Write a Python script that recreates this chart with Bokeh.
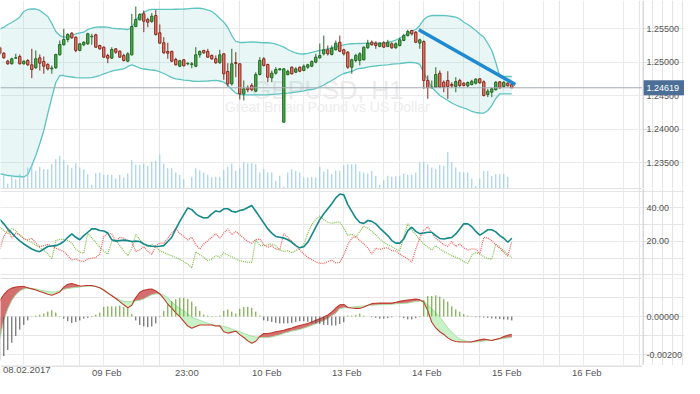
from bokeh.plotting import figure
from bokeh.layouts import column, row
from bokeh.models import Range1d, FixedTicker, Span, Label, ColumnDataSource, Grid
from bokeh.core.properties import value
from bokeh.embed import file_html
from bokeh.resources import INLINE
import numpy as np

# ---------------- data (GBPUSD H1) ----------------
open_ = [1.25220, 1.25135, 1.25016, 1.24977, 1.25061, 1.25086, 1.24977, 1.25026, 1.24962, 1.24917,
         1.25067, 1.25011, 1.24967, 1.24902, 1.24917, 1.25111, 1.25261, 1.25340, 1.25434, 1.25374,
         1.25176, 1.25261, 1.25276, 1.25380, 1.25410, 1.25250, 1.25225, 1.25101, 1.25061, 1.25201,
         1.25165, 1.25101, 1.25016, 1.25111, 1.25534, 1.25634, 1.25723, 1.25638, 1.25609, 1.25698,
         1.25440, 1.25291, 1.25161, 1.25161, 1.25041, 1.24941, 1.25037, 1.24977, 1.24967, 1.24941,
         1.25111, 1.25176, 1.25161, 1.25101, 1.25052, 1.24992, 1.25126, 1.24862, 1.24678, 1.24996,
         1.24977, 1.24529, 1.24619, 1.24653, 1.24568, 1.24817, 1.25052, 1.24967, 1.24768, 1.24837,
         1.24887, 1.24105, 1.24817, 1.24926, 1.24851, 1.24926, 1.24877, 1.24926, 1.24941, 1.25001,
         1.25067, 1.25126, 1.25186, 1.25116, 1.25186, 1.25299, 1.25186, 1.25150, 1.24926, 1.25026,
         1.25026, 1.25037, 1.25216, 1.25299, 1.25285, 1.25235, 1.25291, 1.25235, 1.25276, 1.25216,
         1.25250, 1.25325, 1.25399, 1.25474, 1.25449, 1.25285, 1.25310, 1.24728, 1.24619, 1.24628,
         1.24837, 1.24702, 1.24728, 1.24668, 1.24638, 1.24728, 1.24687, 1.24648, 1.24668, 1.24687,
         1.24753, 1.24708, 1.24519, 1.24553, 1.24589, 1.24708, 1.24638, 1.24687, 1.24668]
high_ = [1.25235, 1.25150, 1.25037, 1.25067, 1.25126, 1.25116, 1.25026, 1.25046, 1.25201, 1.25176,
         1.25116, 1.25086, 1.24986, 1.24952, 1.25126, 1.25325, 1.25500, 1.25434, 1.25449, 1.25385,
         1.25285, 1.25314, 1.25440, 1.25425, 1.25425, 1.25261, 1.25235, 1.25126, 1.25225, 1.25210,
         1.25176, 1.25126, 1.25150, 1.25723, 1.25832, 1.25733, 1.25773, 1.25664, 1.25733, 1.25783,
         1.25564, 1.25374, 1.25291, 1.25176, 1.25067, 1.25037, 1.25046, 1.24996, 1.25001, 1.25225,
         1.25176, 1.25186, 1.25201, 1.25116, 1.25101, 1.25186, 1.25135, 1.24986, 1.25201, 1.25150,
         1.24986, 1.24728, 1.24653, 1.24687, 1.24851, 1.25076, 1.25076, 1.24977, 1.24877, 1.24926,
         1.24911, 1.24911, 1.24887, 1.24937, 1.24926, 1.24937, 1.24967, 1.24977, 1.25026, 1.25126,
         1.25280, 1.25399, 1.25250, 1.25250, 1.25325, 1.25399, 1.25201, 1.25165, 1.25052, 1.25126,
         1.25150, 1.25235, 1.25335, 1.25325, 1.25314, 1.25299, 1.25314, 1.25335, 1.25299, 1.25299,
         1.25365, 1.25425, 1.25485, 1.25485, 1.25464, 1.25350, 1.25325, 1.24802, 1.24728, 1.24926,
         1.24877, 1.24728, 1.24866, 1.24702, 1.24777, 1.24753, 1.24702, 1.24713, 1.24738, 1.24762,
         1.24762, 1.24728, 1.24604, 1.24619, 1.24717, 1.24717, 1.24717, 1.24702, 1.24678]
low_ = [1.25101, 1.25052, 1.24962, 1.24967, 1.25052, 1.24967, 1.24967, 1.24947, 1.24762, 1.24902,
        1.24877, 1.24828, 1.24877, 1.24828, 1.24902, 1.25101, 1.25250, 1.25299, 1.25350, 1.25150,
        1.25165, 1.25240, 1.25261, 1.25261, 1.25216, 1.25186, 1.25067, 1.24986, 1.25052, 1.25126,
        1.25067, 1.25011, 1.25001, 1.25101, 1.25523, 1.25624, 1.25449, 1.25523, 1.25589, 1.25399,
        1.25276, 1.25126, 1.25052, 1.25001, 1.24952, 1.24926, 1.24937, 1.24956, 1.24911, 1.24926,
        1.25067, 1.25126, 1.25067, 1.25037, 1.24977, 1.24977, 1.24738, 1.24638, 1.24653, 1.24777,
        1.24444, 1.24429, 1.24553, 1.24568, 1.24553, 1.24802, 1.24937, 1.24702, 1.24702, 1.24817,
        1.24877, 1.24105, 1.24802, 1.24817, 1.24837, 1.24851, 1.24866, 1.24902, 1.24926, 1.24986,
        1.25052, 1.25101, 1.25101, 1.25101, 1.25176, 1.25150, 1.25101, 1.24902, 1.24828, 1.25001,
        1.24952, 1.25026, 1.25201, 1.25250, 1.25201, 1.25225, 1.25216, 1.25225, 1.25201, 1.25201,
        1.25235, 1.25314, 1.25385, 1.25399, 1.25285, 1.25201, 1.24604, 1.24454, 1.24610, 1.24619,
        1.24619, 1.24553, 1.24454, 1.24619, 1.24553, 1.24628, 1.24638, 1.24628, 1.24653, 1.24668,
        1.24678, 1.24489, 1.24479, 1.24479, 1.24579, 1.24604, 1.24619, 1.24638, 1.24613]
close_ = [1.25131, 1.25067, 1.24977, 1.25052, 1.25067, 1.24977, 1.25016, 1.24962, 1.24892, 1.25052,
          1.24986, 1.24941, 1.24902, 1.24914, 1.25116, 1.25265, 1.25340, 1.25414, 1.25365, 1.25176,
          1.25276, 1.25299, 1.25425, 1.25388, 1.25225, 1.25201, 1.25076, 1.25061, 1.25190, 1.25150,
          1.25076, 1.25026, 1.25126, 1.25534, 1.25638, 1.25713, 1.25613, 1.25598, 1.25688, 1.25414,
          1.25285, 1.25141, 1.25135, 1.25016, 1.24962, 1.25022, 1.24947, 1.24986, 1.24977, 1.25111,
          1.25161, 1.25141, 1.25076, 1.25052, 1.24992, 1.25111, 1.24828, 1.24678, 1.24977, 1.24981,
          1.24529, 1.24604, 1.24589, 1.24589, 1.24817, 1.25026, 1.24952, 1.24777, 1.24837, 1.24892,
          1.24902, 1.24902, 1.24866, 1.24828, 1.24902, 1.24866, 1.24941, 1.24962, 1.25011, 1.25076,
          1.25101, 1.25186, 1.25126, 1.25210, 1.25285, 1.25165, 1.25126, 1.24926, 1.25037, 1.25101,
          1.25126, 1.25225, 1.25285, 1.25261, 1.25250, 1.25285, 1.25225, 1.25299, 1.25216, 1.25276,
          1.25335, 1.25399, 1.25459, 1.25425, 1.25299, 1.25335, 1.24728, 1.24619, 1.24630, 1.24817,
          1.24628, 1.24628, 1.24638, 1.24648, 1.24713, 1.24653, 1.24653, 1.24698, 1.24717, 1.24747,
          1.24693, 1.24504, 1.24568, 1.24604, 1.24702, 1.24619, 1.24702, 1.24648, 1.24619]
volume = [1300, 1430, 500, 1370, 930, 1430, 1100, 2100, 2430, 1770,
          2170, 1930, 1930, 2430, 2930, 3270, 2830, 2370, 2030, 2530,
          2100, 1930, 1430, 370, 1530, 1600, 1370, 1370, 1370, 1000,
          1370, 1100, 1500, 2830, 2370, 2370, 2500, 2270, 2700, 2770,
          3370, 2500, 2030, 2030, 1600, 1370, 930, 100, 1170, 2030,
          1830, 1600, 1370, 1100, 1170, 1170, 1830, 2170, 2500, 1770,
          2030, 2600, 2500, 2530, 2430, 1600, 1930, 1600, 1600, 770,
          1270, 170, 1600, 1930, 1770, 1600, 1100, 1100, 1170, 1100,
          2170, 1700, 1930, 1430, 1770, 1770, 2330, 2430, 2430, 2430,
          1700, 1600, 1500, 1770, 1270, 370, 830, 1270, 1170, 1230,
          1270, 1500, 1370, 1370, 1600, 2600, 2670, 2430, 2100, 1930,
          2370, 2270, 3630, 2630, 2100, 1670, 1600, 1600, 1000, 270,
          1000, 1770, 1770, 1270, 1430, 1430, 1430, 1170, 0]
bb_upper = [1.25500, 1.25519, 1.25564, 1.25594, 1.25631, 1.25676, 1.25758, 1.25788, 1.25798, 1.25795,
            1.25773, 1.25728, 1.25683, 1.25579, 1.25459, 1.25399, 1.25374, 1.25380, 1.25399, 1.25422,
            1.25437, 1.25449, 1.25489, 1.25511, 1.25523, 1.25526, 1.25526, 1.25523, 1.25511, 1.25504,
            1.25500, 1.25496, 1.25489, 1.25519, 1.25623, 1.25698, 1.25743, 1.25777, 1.25788, 1.25788,
            1.25788, 1.25788, 1.25788, 1.25788, 1.25791, 1.25794, 1.25795, 1.25798, 1.25803, 1.25806,
            1.25806, 1.25798, 1.25780, 1.25758, 1.25713, 1.25653, 1.25598, 1.25519, 1.25399, 1.25310,
            1.25295, 1.25295, 1.25302, 1.25305, 1.25302, 1.25295, 1.25291, 1.25291, 1.25287, 1.25271,
            1.25250, 1.25225, 1.25190, 1.25161, 1.25138, 1.25126, 1.25123, 1.25131, 1.25146, 1.25161,
            1.25176, 1.25183, 1.25198, 1.25213, 1.25228, 1.25246, 1.25261, 1.25271, 1.25276, 1.25277,
            1.25280, 1.25283, 1.25285, 1.25285, 1.25285, 1.25285, 1.25287, 1.25295, 1.25310, 1.25332,
            1.25362, 1.25392, 1.25429, 1.25467, 1.25489, 1.25549, 1.25638, 1.25683, 1.25698, 1.25698,
            1.25698, 1.25698, 1.25691, 1.25683, 1.25673, 1.25646, 1.25598, 1.25564, 1.25523, 1.25474,
            1.25422, 1.25374, 1.25280, 1.25176, 1.24996, 1.24787, 1.24787, 1.24787, 1.24787]
bb_lower = [1.23335, 1.23324, 1.23309, 1.23302, 1.23294, 1.23294, 1.23287, 1.23324, 1.23459, 1.23608,
            1.23787, 1.23981, 1.24235, 1.24474, 1.24698, 1.24802, 1.24802, 1.24787, 1.24780, 1.24770,
            1.24768, 1.24768, 1.24768, 1.24770, 1.24787, 1.24802, 1.24825, 1.24847, 1.24869, 1.24884,
            1.24892, 1.24902, 1.24937, 1.24962, 1.24937, 1.24914, 1.24899, 1.24892, 1.24884, 1.24877,
            1.24855, 1.24832, 1.24802, 1.24770, 1.24753, 1.24743, 1.24732, 1.24728, 1.24720, 1.24713,
            1.24713, 1.24717, 1.24720, 1.24725, 1.24728, 1.24720, 1.24705, 1.24653, 1.24593, 1.24539,
            1.24519, 1.24514, 1.24514, 1.24514, 1.24514, 1.24514, 1.24514, 1.24514, 1.24519, 1.24523,
            1.24529, 1.24534, 1.24539, 1.24546, 1.24553, 1.24563, 1.24572, 1.24586, 1.24593, 1.24608,
            1.24631, 1.24660, 1.24698, 1.24728, 1.24765, 1.24802, 1.24832, 1.24847, 1.24862, 1.24892,
            1.24907, 1.24914, 1.24926, 1.24937, 1.24944, 1.24952, 1.24956, 1.24962, 1.24971, 1.24977,
            1.24981, 1.24989, 1.24996, 1.24996, 1.24992, 1.24967, 1.24847, 1.24728, 1.24623, 1.24563,
            1.24504, 1.24466, 1.24429, 1.24392, 1.24362, 1.24339, 1.24317, 1.24295, 1.24265, 1.24250,
            1.24242, 1.24239, 1.24280, 1.24354, 1.24459, 1.24529, 1.24529, 1.24529, 1.24529]
adx = [33.3, 30.5, 27.5, 25.0, 22.5, 20.3, 18.5, 17.0, 15.5, 14.5,
       13.9, 15.5, 17.0, 17.3, 17.5, 18.5, 20.0, 22.5, 24.5, 22.5,
       21.0, 23.5, 25.5, 27.5, 27.5, 26.5, 26.2, 25.0, 21.0, 20.2,
       20.5, 20.8, 20.5, 20.0, 20.2, 20.0, 18.5, 17.5, 17.1, 17.0,
       17.1, 17.5, 20.0, 22.5, 27.5, 32.0, 36.0, 40.0, 39.0, 36.5,
       35.0, 34.0, 34.2, 36.5, 38.2, 37.7, 39.5, 39.5, 38.0, 37.5,
       38.5, 39.0, 40.3, 41.5, 38.0, 34.5, 31.0, 27.5, 25.0, 23.0,
       22.5, 22.0, 21.0, 19.5, 17.5, 16.2, 16.8, 19.5, 24.0, 28.5,
       33.0, 36.5, 39.5, 42.5, 46.0, 48.3, 47.8, 42.0, 38.0, 34.0,
       31.3, 30.8, 32.5, 32.0, 30.5, 28.0, 25.7, 23.5, 20.5, 19.0,
       19.0, 21.5, 26.5, 28.5, 26.0, 24.7, 25.0, 25.5, 25.5, 23.5,
       21.8, 21.5, 22.0, 22.4, 24.5, 27.5, 30.5, 30.5, 28.8, 26.0,
       23.8, 25.3, 27.0, 27.0, 25.7, 23.5, 21.9, 19.5, 21.9]
plus_di = [28.5, 26.5, 24.7, 27.6, 26.5, 23.5, 21.9, 20.5, 19.5, 17.8,
           16.2, 14.6, 12.8, 9.5, 20.5, 21.3, 21.3, 20.5, 19.0, 15.5,
           13.5, 13.0, 25.1, 22.0, 19.5, 16.5, 14.3, 12.5, 20.0, 21.0,
           17.5, 14.3, 11.5, 16.0, 24.3, 21.0, 18.5, 17.0, 18.1, 17.0,
           14.3, 13.5, 12.3, 11.5, 10.4, 9.3, 8.0, 6.5, 4.2, 13.8,
           12.0, 10.5, 8.5, 9.5, 11.5, 10.5, 13.3, 11.8, 11.0, 9.5,
           8.5, 8.0, 7.6, 7.5, 21.3, 17.5, 17.5, 18.0, 18.5, 17.5,
           15.0, 14.0, 14.5, 13.3, 14.5, 16.2, 18.1, 25.0, 30.0, 33.3,
           35.2, 33.0, 31.4, 30.8, 31.5, 31.5, 28.0, 23.5, 24.5, 22.5,
           26.0, 29.0, 28.0, 26.0, 24.0, 21.5, 19.5, 18.0, 17.0, 15.5,
           14.5, 23.0, 30.5, 27.0, 24.0, 21.0, 18.5, 16.5, 15.0, 17.5,
           15.5, 14.0, 12.8, 11.5, 10.5, 9.5, 8.0, 6.8, 12.0, 13.3,
           12.5, 11.0, 9.8, 9.5, 18.5, 16.5, 14.5, 12.5, 10.4]
minus_di = [15.5, 22.8, 27.0, 22.0, 25.0, 24.0, 21.5, 20.9, 21.9, 19.0,
            17.0, 17.5, 18.1, 17.5, 16.0, 15.0, 14.0, 11.5, 9.0, 9.5,
            8.5, 8.0, 9.5, 10.0, 10.4, 12.5, 22.8, 25.0, 24.5, 20.0,
            22.5, 22.0, 20.5, 20.0, 14.0, 15.0, 17.0, 14.0, 12.3, 17.5,
            19.0, 19.0, 22.0, 25.0, 27.6, 24.7, 23.0, 20.9, 22.5, 18.0,
            15.5, 18.5, 20.5, 22.5, 24.7, 22.0, 25.0, 27.5, 24.0, 26.0,
            24.0, 21.9, 20.0, 19.0, 21.0, 21.5, 18.0, 16.5, 17.5, 15.5,
            15.0, 24.7, 22.5, 20.0, 17.5, 15.0, 12.5, 10.5, 9.2, 7.8,
            7.0, 6.8, 8.0, 8.8, 7.2, 7.5, 12.0, 18.0, 22.0, 23.0,
            20.5, 18.5, 16.2, 12.5, 16.0, 15.2, 16.0, 16.2, 14.5, 14.3,
            12.5, 11.0, 9.5, 7.6, 15.5, 22.0, 26.6, 28.8, 25.0, 22.0,
            20.0, 18.0, 17.1, 20.0, 17.0, 18.5, 16.2, 15.0, 15.5, 15.5,
            12.5, 22.5, 22.0, 20.5, 18.0, 16.0, 13.5, 11.3, 20.0]
macd = [85, 115, 138, 150, 155, 158, 158, 152, 146, 140,
        132, 125, 118, 112, 120, 130, 155, 170, 174, 168,
        161, 162, 164, 164, 158, 152, 140, 125, 110, 95,
        79, 62, 46, 60, 100, 128, 138, 143, 145, 135,
        120, 95, 65, 45, 20, 0, -25, -50, -61, -52,
        -44, -44, -44, -44, -50, -49, -80, -87, -82, -77,
        -95, -110, -128, -140, -130, -105, -89, -89, -85, -80,
        -76, -72, -66, -60, -53, -47, -42, -37, -28, -20,
        -11, -2, 8, 25, 45, 62, 64, 48, 45, 43,
        43, 50, 60, 68, 70, 71, 71, 71, 71, 75,
        80, 84, 87, 90, 92, 88, 75, 30, -30, -60,
        -80, -94, -112, -125, -131, -133, -134, -134, -133, -128,
        -122, -118, -122, -126, -120, -115, -105, -98, -94]       # units of 1e-5
signal = [-118, -20, 40, 85, 115, 135, 145, 148, 148, 146,
          140, 136, 132, 129, 130, 136, 143, 148, 151, 153,
          156, 159, 160, 160, 158, 150, 136, 120, 112, 100,
          88, 79, 79, 80, 82, 86, 93, 105, 115, 120,
          118, 112, 100, 75, 58, 42, 30, 13, -3, -12,
          -20, -28, -34, -42, -46, -49, -52, -58, -66, -73,
          -80, -89, -97, -103, -108, -110, -110, -110, -107, -102,
          -96, -88, -82, -76, -72, -68, -61, -54, -46, -38,
          -30, -22, -10, 5, 18, 42, 46, 46, 50, 52,
          54, 56, 59, 60, 61, 62, 63, 64, 65, 67,
          68, 70, 71, 76, 80, 82, 82, 60, 40, 20,
          -3, -30, -60, -82, -104, -118, -126, -131, -134, -133,
          -131, -129, -126, -124, -121, -118, -115, -112, -110]   # units of 1e-5
hist = [-230, -208, -176, -138, -102, -69, -44, -20, 2, 5,
        10, 16, 26, 33, 21, 2, -11, -24, -33, -28,
        -20, -11, -7, -3, 10, 21, 51, 54, 54, 54,
        58, 51, 46, 13, -20, -44, -52, -56, -52, -36,
        -3, 30, 62, 82, 92, 99, 99, 92, 79, 54,
        30, 10, 5, 3, 2, 5, 30, 38, 26, 16,
        41, 51, 51, 46, 26, 5, -20, -24, -28, -33,
        -36, -36, -36, -33, -28, -24, -24, -28, -33, -36,
        -39, -44, -44, -47, -47, -39, -30, 5, 5, 8,
        16, 5, 0, -3, -7, -11, -11, -8, -3, 0,
        -3, -8, -15, -15, -8, -3, 87, 108, 108, 112,
        104, 92, 79, 54, 38, 26, 13, 5, 2, -3,
        -3, -5, -7, -10, -11, -13, -15, -16, -20]                 # units of 1e-5
trend_bar = [104.75, 128.9]
trend_price = [1.25485, 1.24668]

tick_bars = [6, 26, 46, 66, 86, 106, 126, 146]
tick_labels = ["08.02.2017", "09 Feb", "23:00", "10 Feb", "13 Feb", "14 Feb", "15 Feb", "16 Feb"]
minor_bars = [16, 36, 56, 76, 96, 116, 136, 156]
price_ticks = [1.235, 1.240, 1.245, 1.250, 1.255]
adx_ticks = [20.0, 40.0]
macd_ticks = [0.0, -0.002]
symbol = "GBPUSD, H1"
description = "Great Britain Pound vs US Dollar"

# ---------------- layout ----------------
n = len(close_)
k = np.arange(n)
o = np.array(open_); c = np.array(close_); h = np.array(high_); l = np.array(low_)
inc = c >= o

W = 642          # plot frame width (4 px per bar)
SW = 42          # price-scale strip width
XR = Range1d(0.175, 0.175 + W / 4)
FONT = "Liberation Sans"
GRID = "#ebebeb"
SEP = "#c4c4c4"
AXIS = "#b4b4b4"
LBL = "#555555"


def panel(fh, yr, ticks):
    p = figure(frame_width=W, frame_height=fh, x_range=XR, y_range=yr,
               output_backend="svg", toolbar_location=None,
               x_axis_location=None, y_axis_location=None, min_border=0)
    p.outline_line_color = None
    p.add_layout(Grid(dimension=0, ticker=FixedTicker(ticks=tick_bars + minor_bars),
                      grid_line_color=GRID))
    p.add_layout(Grid(dimension=1, ticker=FixedTicker(ticks=ticks), grid_line_color=GRID))
    return p


def scale(fh, yr, ticks, fmt):
    a = figure(frame_width=SW, frame_height=fh, x_range=Range1d(0, SW), y_range=yr,
               output_backend="svg", toolbar_location=None,
               x_axis_location=None, y_axis_location=None, min_border=0)
    a.outline_line_color = None
    a.add_layout(Span(location=0.5, dimension="height", line_color=AXIS, line_width=1))
    a.text(x=[4] * len(ticks), y=ticks, text=[fmt % t for t in ticks],
           text_font=value(FONT), text_font_size="9px", text_color=LBL,
           text_baseline="middle", text_align="left")
    return a


# ---- main price panel
YR1 = Range1d(1.23115, 1.25922)
p1 = panel(188, YR1, price_ticks)
p1.extra_y_ranges = {"vol": Range1d(0, 18800)}

mid_x = 81.9
p1.add_layout(Label(x=mid_x, y=1.24579, text=symbol, text_align="center",
                    text_baseline="alphabetic", text_font=FONT, text_font_size="25px",
                    text_color="#ebebeb", level="underlay"))
p1.add_layout(Label(x=mid_x, y=1.24339, text=description, text_align="center",
                    text_baseline="alphabetic", text_font=FONT, text_font_size="14px",
                    text_color="#ededed", level="underlay"))

p1.varea(x=k, y1=bb_lower, y2=bb_upper, fill_color="#58bcb8", fill_alpha=0.13)
p1.line(k, bb_upper, line_color="#5ec4c0", line_width=1.3)
p1.line(k, bb_lower, line_color="#5ec4c0", line_width=1.3)

p1.segment(x0=k, y0=0, x1=k, y1=volume, y_range_name="vol", line_color="#8ec8ec", line_width=1)

src_up = ColumnDataSource(dict(k=k[inc], h=h[inc], l=l[inc], top=c[inc], bot=o[inc]))
src_dn = ColumnDataSource(dict(k=k[~inc], h=h[~inc], l=l[~inc], top=o[~inc], bot=c[~inc]))
p1.segment(x0="k", y0="h", x1="k", y1="l", source=src_up, line_color="#226b22", line_width=1)
p1.segment(x0="k", y0="h", x1="k", y1="l", source=src_dn, line_color="#862a1e", line_width=1)
p1.vbar(x="k", width=0.58, top="top", bottom="bot", source=src_up,
        fill_color="#4cae4f", line_color="#226b22", line_width=1)
p1.vbar(x="k", width=0.58, top="top", bottom="bot", source=src_dn,
        fill_color="#ee7a6c", line_color="#862a1e", line_width=1)

p1.add_layout(Span(location=close_[-1], dimension="width", line_color="#a3abb3", line_width=1))
p1.line(trend_bar, trend_price, line_color="#1f8ad2", line_width=3.5)

a1 = scale(188, YR1, price_ticks, "%.5f")
a1.rect(x=SW / 2 + 0.5, y=close_[-1], width=SW - 1, height=15, height_units="screen",
        fill_color="#4b6f96", line_color=None)
a1.text(x=[4], y=[close_[-1]], text=["%.5f" % close_[-1]], text_font=value(FONT),
        text_font_size="9px", text_color="white", text_baseline="middle", text_align="left")

# ---- ADX panel
YR2 = Range1d(-2.1, 51.6)
p2 = panel(90, YR2, adx_ticks)
p2.add_layout(Span(location=YR2.end, dimension="width", line_color=SEP, line_width=1))
p2.line(k, plus_di, line_color="#7fbf45", line_width=1.2, line_dash="1 1")
p2.line(k, minus_di, line_color="#f25a5a", line_width=1.2, line_dash="1 1")
p2.line(k, adx, line_color="#15898a", line_width=1.6)
a2 = scale(90, YR2, adx_ticks, "%.2f")

# ---- MACD panel
m = np.array(macd) * 1e-5
s = np.array(signal) * 1e-5
hv = np.array(hist) * 1e-5
YR3 = Range1d(-0.002576, 0.002005)
p3 = panel(87, YR3, macd_ticks)
p3.add_layout(Span(location=YR3.end, dimension="width", line_color=SEP, line_width=1))
p3.varea(x=k, y1=s, y2=np.maximum(m, s), fill_color="#d46f70")
p3.varea(x=k, y1=s, y2=np.minimum(m, s), fill_color="#c9f2c9")
p3.line(k, s, line_color="#a6e0a6", line_width=1)
p3.line(k, m, line_color="#c0392b", line_width=1.1)
pos = hv >= 0
p3.segment(x0=k[pos], y0=0, x1=k[pos], y1=hv[pos], line_color="#5c9c1c", line_width=1)
p3.segment(x0=k[~pos], y0=0, x1=k[~pos], y1=hv[~pos], line_color="#4d4d4d", line_width=1)
a3 = scale(87, YR3, macd_ticks, "%.5f")

# ---- time scale strip
SH = 13
b = figure(frame_width=W, frame_height=SH, x_range=XR, y_range=Range1d(0, SH),
           output_backend="svg", toolbar_location=None,
           x_axis_location=None, y_axis_location=None, min_border=0)
b.outline_line_color = None
b.grid.visible = False
b.add_layout(Span(location=SH - 0.5, dimension="width", line_color=SEP, line_width=1))
b.text(x=tick_bars, y=[SH - 1.5] * len(tick_bars), text=tick_labels, x_offset=3,
       text_font=value(FONT), text_font_size="9.5px", text_color=LBL,
       text_baseline="top", text_align="center")

layout = column(row(p1, a1, spacing=0), row(p2, a2, spacing=0), row(p3, a3, spacing=0), b,
                spacing=0)
open("out.html", "w").write(file_html(layout, INLINE))
